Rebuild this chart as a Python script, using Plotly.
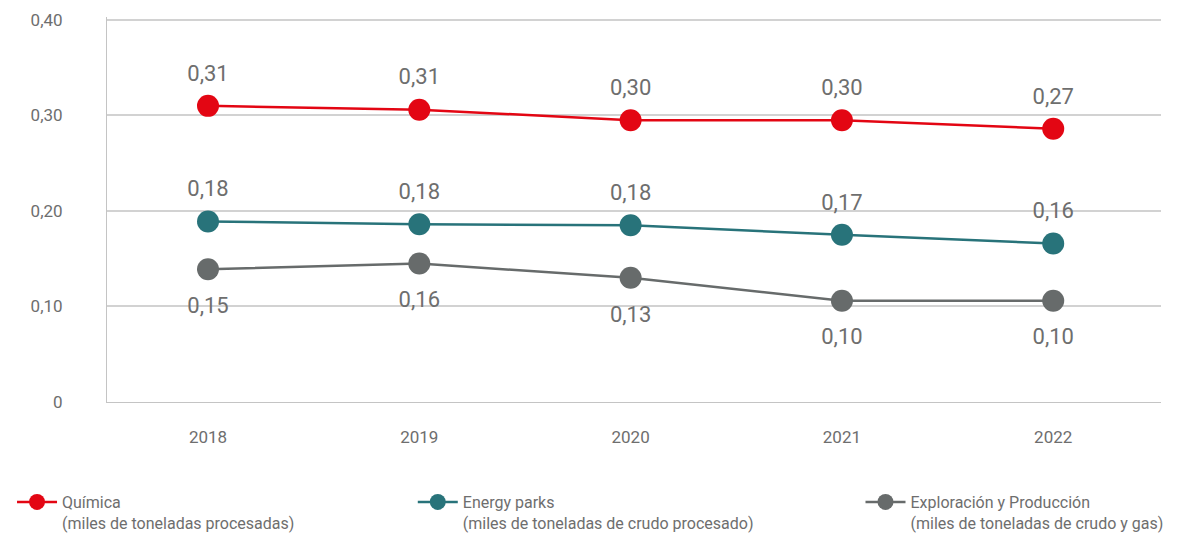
import plotly.graph_objects as go

years = ["2018", "2019", "2020", "2021", "2022"]

quimica = [0.310, 0.306, 0.295, 0.295, 0.286]
quimica_labels = ["0,31", "0,31", "0,30", "0,30", "0,27"]

energy = [0.189, 0.186, 0.185, 0.175, 0.166]
energy_labels = ["0,18", "0,18", "0,18", "0,17", "0,16"]

exploracion = [0.139, 0.145, 0.130, 0.106, 0.106]
exploracion_labels = ["0,15", "0,16", "0,13", "0,10", "0,10"]

series_names = [
    "Química<br>(miles de toneladas procesadas)",
    "Energy parks<br>(miles de toneladas de crudo procesado)",
    "Exploración y Producción<br>(miles de toneladas de crudo y gas)",
]

y_tickvals = [0, 0.1, 0.2, 0.3, 0.4]
y_ticktext = ["0", "0,10", "0,20", "0,30", "0,40"]

colors = ["#E30613", "#28737A", "#676B6B"]
text_color = "#6E6E6E"
font_family = "Roboto"

fig = go.Figure()

data = [
    (quimica, quimica_labels, "top center", 30, "legend"),
    (energy, energy_labels, "top center", 30, "legend2"),
    (exploracion, exploracion_labels, "bottom center", 42, "legend3"),
]

for i, (vals, labels, pos, pad, leg) in enumerate(data):
    fig.add_trace(go.Scatter(
        x=years, y=vals, name=series_names[i],
        mode="lines+markers",
        line=dict(color=colors[i], width=2.5),
        marker=dict(color=colors[i], size=22),
        legend=leg,
        cliponaxis=False,
    ))
    # value labels (invisible marker only sets label offset)
    fig.add_trace(go.Scatter(
        x=years, y=vals, mode="markers+text",
        text=labels, textposition=pos,
        textfont=dict(size=22, color=text_color, family=font_family),
        marker=dict(size=pad, opacity=0),
        showlegend=False, hoverinfo="skip", cliponaxis=False,
    ))

legend_common = dict(
    orientation="v", yanchor="top", xanchor="left",
    xref="container", yref="container",
    font=dict(size=16, color=text_color, family=font_family),
    valign="top", bgcolor="rgba(0,0,0,0)",
    itemwidth=40,
)

fig.update_layout(
    width=1186, height=528,
    showlegend=True,
    margin=dict(l=99, r=33, t=9, b=134, autoexpand=False),
    paper_bgcolor="white", plot_bgcolor="white",
    font=dict(family=font_family, color=text_color),
    separators=",.",
    legend=dict(x=0.0034, y=0.0966, **legend_common),
    legend2=dict(x=0.3413, y=0.0966, **legend_common),
    legend3=dict(x=0.7188, y=0.0966, **legend_common),
    xaxis=dict(
        type="category", range=[-0.478, 4.51],
        showgrid=False, showline=True, linecolor="#C4C4C4", linewidth=1,
        ticks="", tickfont=dict(size=17, color=text_color),
        ticklabelstandoff=20, zeroline=False,
    ),
    yaxis=dict(
        range=[0, 0.403], tickvals=y_tickvals, ticktext=y_ticktext,
        showgrid=True, gridcolor="#D2D2D2", gridwidth=1.5,
        showline=True, linecolor="#C4C4C4", linewidth=1,
        ticks="", tickfont=dict(size=17, color=text_color),
        ticklabelstandoff=40, zeroline=False, ticklabeloverflow="allow",
    ),
)

fig.write_html("out.html")
